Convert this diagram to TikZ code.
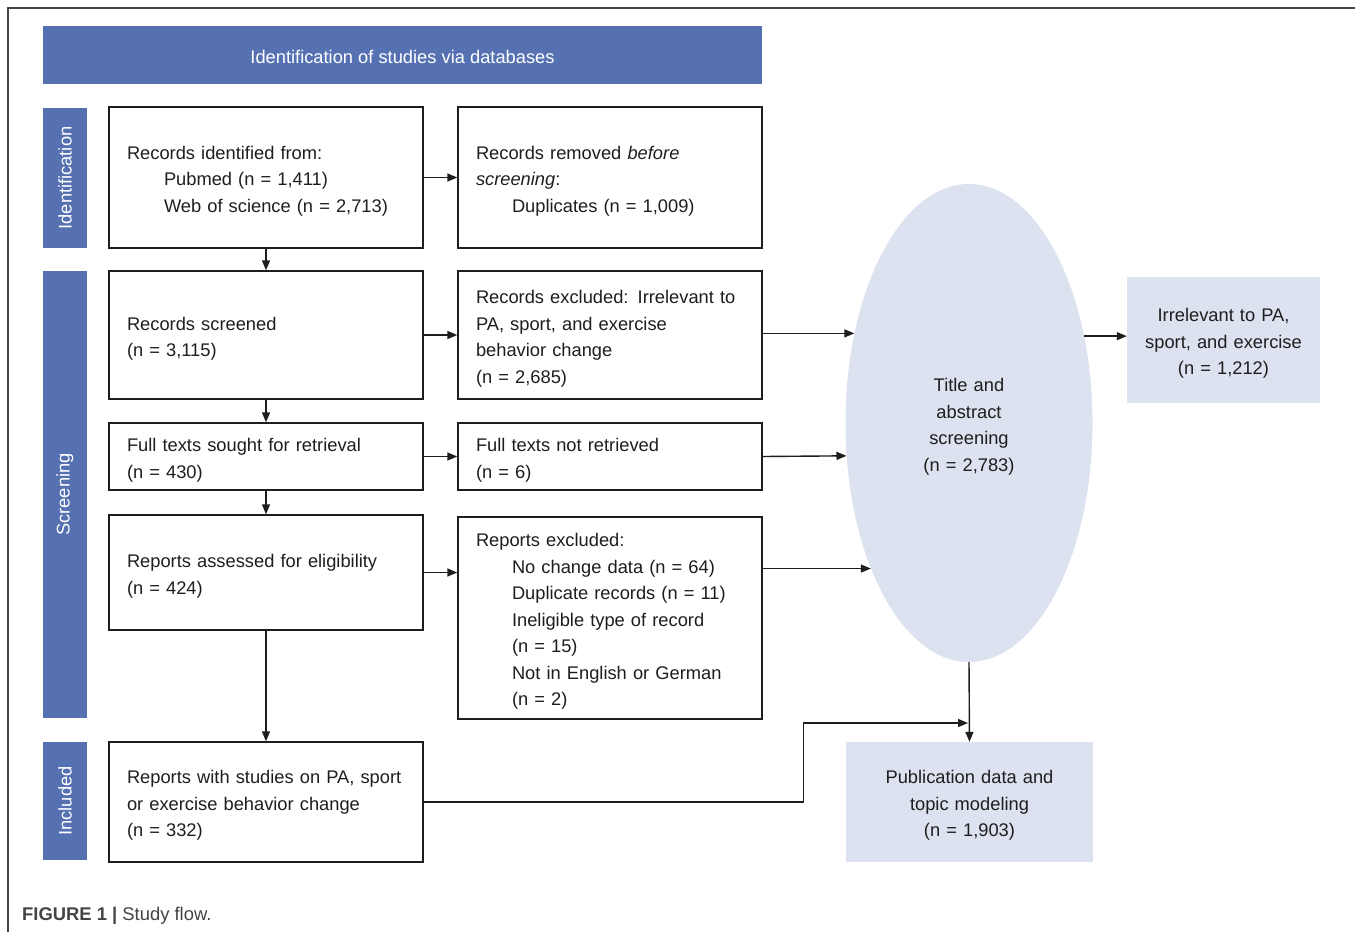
\documentclass[tikz,border=0pt]{standalone}
\usepackage{fontspec}
\setmainfont{Liberation Sans}
\usetikzlibrary{shapes.geometric,arrows.meta}
\definecolor{hdr}{HTML}{5571B2}
\definecolor{lite}{HTML}{DCE2EF}
\definecolor{ink}{HTML}{1E1E1E}
\definecolor{frm}{HTML}{444444}
\begin{document}
\begin{tikzpicture}[x=1pt,y=-1pt,
  every node/.style={font=\fontsize{18.3}{26.5}\selectfont, text=ink},
  shiftdown/.style={execute at begin node={\rule{0pt}{20.5pt}}},
  box/.style={draw=ink, line width=1.4pt, inner xsep=18pt, inner ysep=0pt, align=left, shiftdown},
  lbox/.style={box, text width=278pt},
  rbox/.style={box, text width=268pt},
  bar/.style={fill=hdr, text=white, inner sep=0pt, align=center},
  soft/.style={fill=lite, inner sep=0pt, align=center, text width=180pt, shiftdown},
  arr/.style={draw=ink, line width=1.4pt, -{Triangle[length=10pt,width=8pt]}}
]
\useasboundingbox (0,0) rectangle (1355,932);
\fill[white] (0,0) rectangle (1355,932);
\draw[frm, line width=1.8pt] (8,932) -- (8,8) -- (1355,8);

% header and side bars
\node[bar, minimum width=719pt, minimum height=58pt, execute at begin node={\rule{0pt}{17pt}}] (hd) at (402.5,55) {Identification of studies via databases};
\node[bar, minimum width=140pt, minimum height=44pt, rotate=90] (sid) at (65,178) {Identification};
\node[bar, minimum width=447pt, minimum height=44pt, rotate=90] (ssc) at (65,494.5) {Screening};
\node[bar, minimum width=118pt, minimum height=44pt, rotate=90] (sin) at (65,801) {Included};

% boxes
\node[lbox, minimum height=141pt] (A) at (266,177.5) {Records identified from:\\\hspace*{37pt}Pubmed (n = 1,411)\\\hspace*{37pt}Web of science (n = 2,713)};
\node[rbox, minimum height=141pt] (B) at (610,177.5) {Records removed \textit{before}\\\textit{screening}:\\\hspace*{36pt}Duplicates (n = 1,009)};
\node[lbox, minimum height=128pt] (C) at (266,335) {Records screened\\(n = 3,115)};
\node[rbox, minimum height=128pt] (D) at (610,335) {Records excluded: Irrelevant to\\PA, sport, and exercise\\behavior change\\(n = 2,685)};
\node[lbox, minimum height=67pt] (E) at (266,456.5) {Full texts sought for retrieval\\(n = 430)};
\node[rbox, minimum height=67pt] (F) at (610,456.5) {Full texts not retrieved\\(n = 6)};
\node[lbox, minimum height=115pt] (G) at (266,572.5) {Reports assessed for eligibility\\(n = 424)};
\node[rbox, minimum height=202pt] (H) at (610,618) {Reports excluded:\\\hspace*{36pt}No change data (n = 64)\\\hspace*{36pt}Duplicate records (n = 11)\\\hspace*{36pt}Ineligible type of record\\\hspace*{36pt}(n = 15)\\\hspace*{36pt}Not in English or German\\\hspace*{36pt}(n = 2)};
\node[lbox, minimum height=120pt] (I) at (266,802) {Reports with studies on PA, sport\\or exercise behavior change\\(n = 332)};

% right side
\node[soft, ellipse, text width=120pt, minimum width=247pt, minimum height=478pt] (ell) at (969,423) {Title and\\abstract\\screening\\(n = 2,783)};
\node[soft, minimum width=193pt, minimum height=126pt] (irr) at (1223.5,340) {Irrelevant to PA,\\sport, and exercise\\(n = 1,212)};
\node[soft, minimum width=247pt, minimum height=120pt] (pub) at (969.5,802) {Publication data and\\topic modeling\\(n = 1,903)};

% caption
\node[anchor=base west, inner sep=0pt, text=frm, font=\fontsize{18.4}{21}\selectfont] (cap) at (22,920) {\textbf{FIGURE 1 |} Study flow.};

% arrows
\draw[arr] (A.east) -- (A.east -| B.west);
\draw[arr] (A.south) -- (C.north);
\draw[arr] (C.east) -- (C.east -| D.west);
\draw[arr] (C.south) -- (E.north);
\draw[arr] (E.east) -- (E.east -| F.west);
\draw[arr] (E.south) -- (G.north);
\draw[arr] (G.east) -- (G.east -| H.west);
\draw[arr] (G.south) -- (I.north);
\draw[arr] (D.east |- ell.142.8) -- (ell.142.8);
\draw[arr] (F.east) -- (ell.195.6);
\draw[arr] (H.east |- ell.236.3) -- (ell.236.3);
\draw[arr] (ell.37.2) -- (ell.37.2 -| irr.west);
\draw[arr] (ell.south) -- (pub.north);
\coordinate (m) at (968,723);
\draw[arr] (I.east) -- ++(380,0) |- (m);
\end{tikzpicture}
\end{document}
